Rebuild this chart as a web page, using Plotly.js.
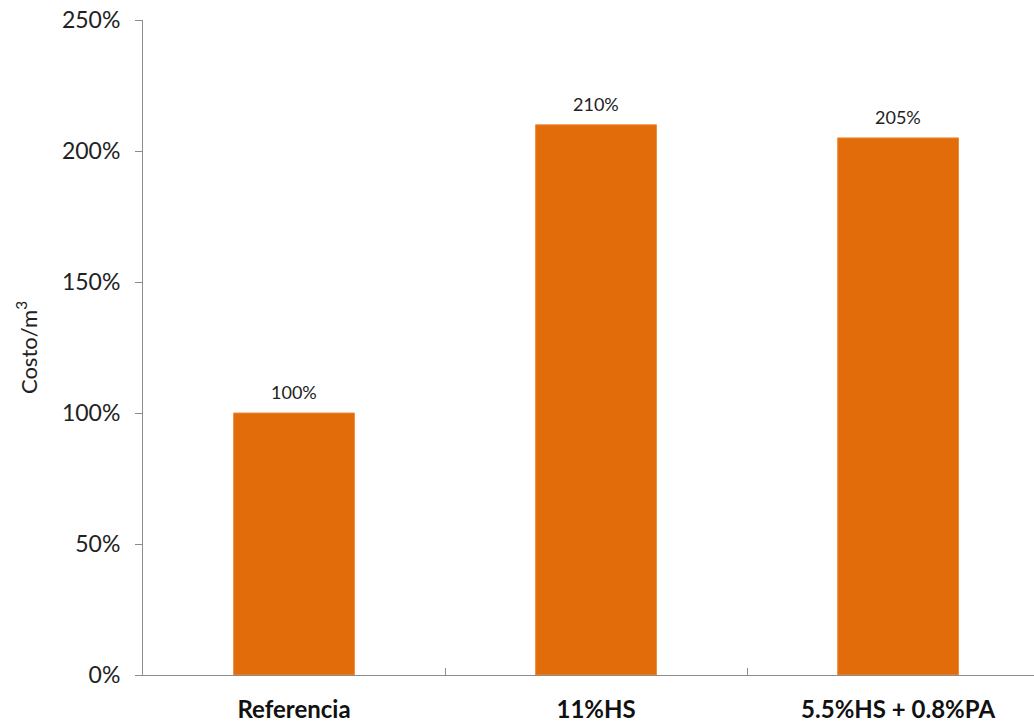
<!DOCTYPE html>
<html>
<head>
<meta charset="utf-8">
<script src="https://cdn.plot.ly/plotly-3.0.1.min.js"></script>
<style>html,body{margin:0;padding:0;background:#fff;}#chart{width:1034px;height:728px;}</style>
</head>
<body>
<div id="chart"></div>
<script>
const categories = ["Referencia", "11%HS", "5.5%HS + 0.8%PA"];
const costPercent = [100, 210, 205];
const barLabels = ["100%", "210%", "205%"];
const yTickValues = [0, 50, 100, 150, 200, 250];
const yTickLabels = ["0%", "50%", "100%", "150%", "200%", "250%"];

const FONT = "Lato, 'Open Sans', 'DejaVu Sans', sans-serif";

const annotations = categories.map((c, i) => ({
  x: c, y: costPercent[i], text: barLabels[i],
  xref: "x", yref: "y", showarrow: false,
  yanchor: "bottom", yshift: 8,
  font: {family: FONT, size: 18, color: "#222"}
}));

Plotly.newPlot("chart", [{
  type: "bar",
  x: categories,
  y: costPercent,
  width: 0.4,
  marker: {color: "#E36C0A", line: {color: "#EE8A3A", width: 1}},
  hoverinfo: "none"
}], {
  width: 1034, height: 728,
  margin: {l: 143, r: 0, t: 20, b: 53},
  paper_bgcolor: "#fff", plot_bgcolor: "#fff",
  showlegend: false,
  font: {family: FONT, color: "#222"},
  annotations: annotations,
  xaxis: {
    type: "category",
    range: [-0.5, 2.45],
    showline: true, linecolor: "#8c8c8c", linewidth: 1,
    ticks: "inside", tickson: "boundaries", ticklen: 7, tickcolor: "#8c8c8c",
    showgrid: false, zeroline: false,
    tickfont: {family: FONT, size: 24, color: "#111", weight: "bold"},
    ticklabelstandoff: 13
  },
  yaxis: {
    range: [0, 250],
    tickvals: yTickValues, ticktext: yTickLabels,
    showline: true, linecolor: "#8c8c8c", linewidth: 1,
    ticks: "outside", ticklen: 7, tickcolor: "#8c8c8c",
    showgrid: false, zeroline: false,
    tickfont: {family: FONT, size: 23, color: "#222"},
    ticklabelstandoff: 10,
    title: {text: "Costo/m<sup>3</sup>", font: {family: FONT, size: 22, color: "#222"}, standoff: 18}
  }
}, {displayModeBar: false, staticPlot: true});
</script>
</body>
</html>
